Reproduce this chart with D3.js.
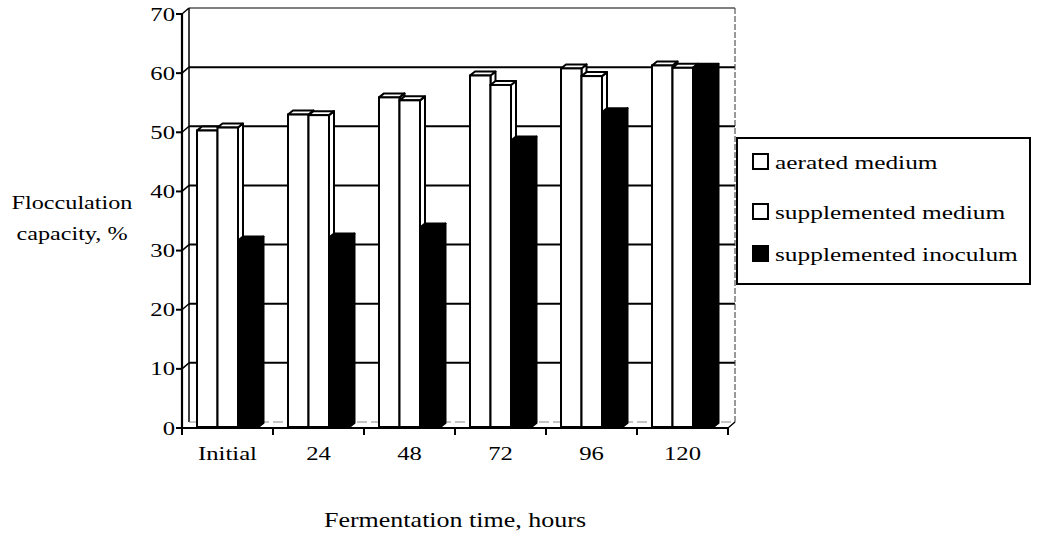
<!DOCTYPE html>
<html><head><meta charset="utf-8">
<script src="https://cdn.jsdelivr.net/npm/d3@7"></script>
<style>
body{margin:0;background:#fff}
svg{display:block}
text{font-family:"Liberation Serif","Times New Roman",serif;fill:#000}
</style></head>
<body><svg id="c" width="1038" height="537"></svg>
<script>
const categories=["Initial","24","48","72","96","120"];
const seriesNames=["aerated medium","supplemented medium","supplemented inoculum"];
const aerated=[50.3,53.0,55.9,59.6,60.8,61.3];
const suppMedium=[50.8,52.9,55.4,58.0,59.5,60.9];
const suppInoculum=[31.7,32.2,33.9,48.6,53.4,60.9];
const yTicks=[0,10,20,30,40,50,60,70];
const seriesFills=["#fff","#fff","#000"];
const xTitle="Fermentation time, hours";
const yTitle=["Flocculation","capacity, %"];

const svg=d3.select("#c");
const SX=1.3; // horizontal stretch of lettering
const X0=182,X1=728,Y0=428,Y1=14;
const DX=7,DY=-6;   // wall depth
const BDX=5,BDY=-4; // bar depth
const y=d3.scaleLinear().domain([0,70]).range([Y0,Y1]);
const x=d3.scaleBand().domain(categories).range([X0,X1]);
const xs=d3.scaleBand().domain(seriesNames).range([15,76.5]);
const data=[aerated,suppMedium,suppInoculum];

function label(txt,px,py,size,anchor){
  const g=svg.append("g").attr("transform",`translate(${px},${py}) scale(${SX},1)`);
  g.append("text").attr("font-size",size).attr("text-anchor",anchor||"start").text(txt);
}

// back wall
svg.append("rect").attr("x",X0+DX).attr("y",y(70)+DY).attr("width",X1-X0).attr("height",Y0-Y1)
  .attr("fill","#fff").attr("stroke","none");
// gridlines
yTicks.forEach(v=>{
  if(v===0) return;
  const gy=y(v)+DY;
  svg.append("line").attr("x1",X0+DX).attr("x2",X1+DX).attr("y1",gy).attr("y2",gy)
    .attr("stroke","#000").attr("stroke-width",v===70?1.2:2);
  svg.append("line").attr("x1",X0).attr("x2",X0+DX).attr("y1",y(v)).attr("y2",gy)
    .attr("stroke","#000").attr("stroke-width",1.5);
});
// wall edges
svg.append("line").attr("x1",X1+DX).attr("x2",X1+DX).attr("y1",y(70)+DY).attr("y2",Y0+DY)
  .attr("stroke","#333").attr("stroke-width",1).attr("stroke-dasharray","6,2");
svg.append("line").attr("x1",X0+DX).attr("x2",X0+DX).attr("y1",y(70)+DY).attr("y2",Y0+DY)
  .attr("stroke","#000").attr("stroke-width",1.5);
svg.append("line").attr("x1",X0+DX).attr("x2",X1+DX).attr("y1",Y0+DY).attr("y2",Y0+DY)
  .attr("stroke","#888").attr("stroke-width",1).attr("stroke-dasharray","10,4");
svg.append("line").attr("x1",X1).attr("x2",X1+DX).attr("y1",Y0).attr("y2",Y0+DY)
  .attr("stroke","#000").attr("stroke-width",1.5);

// bars
categories.forEach((c,i)=>{
  seriesNames.forEach((s,k)=>{
    const v=data[k][i];
    const bx=x(c)+xs(s), bw=xs.bandwidth(), by=y(v), bb=Y0-1;
    const f=seriesFills[k];
    // side face
    svg.append("path").attr("d",`M${bx+bw},${by}L${bx+bw+BDX},${by+BDY}L${bx+bw+BDX},${bb+BDY}L${bx+bw},${bb}Z`)
      .attr("fill",f).attr("stroke","#000").attr("stroke-width",2).attr("stroke-linejoin","round");
    // top face
    svg.append("path").attr("d",`M${bx},${by}L${bx+BDX},${by+BDY}L${bx+bw+BDX},${by+BDY}L${bx+bw},${by}Z`)
      .attr("fill",f).attr("stroke","#000").attr("stroke-width",2).attr("stroke-linejoin","round");
    // front face
    svg.append("rect").attr("x",bx).attr("y",by).attr("width",bw).attr("height",bb-by)
      .attr("fill",f).attr("stroke","#000").attr("stroke-width",2);
  });
});

// y axis
svg.append("line").attr("x1",X0).attr("x2",X0).attr("y1",Y1).attr("y2",Y0)
  .attr("stroke","#000").attr("stroke-width",2.2);
yTicks.forEach(v=>{
  svg.append("line").attr("x1",X0-6).attr("x2",X0).attr("y1",y(v)).attr("y2",y(v))
    .attr("stroke","#000").attr("stroke-width",2);
  label(String(v),X0-7,y(v)+6.5,19,"end");
});
// x axis
svg.append("line").attr("x1",X0).attr("x2",X1).attr("y1",Y0).attr("y2",Y0)
  .attr("stroke","#000").attr("stroke-width",2.2);
categories.concat([null]).forEach((c,i)=>{
  const tx=c===null?X1:x(c);
  svg.append("line").attr("x1",tx).attr("x2",tx).attr("y1",Y0).attr("y2",Y0+7)
    .attr("stroke","#000").attr("stroke-width",2);
});
categories.forEach(c=>label(c,x(c)+x.bandwidth()/2,460,19,"middle"));

// titles
label(xTitle,455,527,20,"middle");
label(yTitle[0],72,209,18.6,"middle");
label(yTitle[1],72,240,18.6,"middle");

// legend
svg.append("rect").attr("x",737).attr("y",138).attr("width",293).attr("height",146)
  .attr("fill","#fff").attr("stroke","#000").attr("stroke-width",2);
const legY=[153,203,245];
seriesNames.forEach((s,k)=>{
  svg.append("rect").attr("x",753).attr("y",legY[k]+1).attr("width",15).attr("height",15)
    .attr("fill",seriesFills[k]).attr("stroke","#000").attr("stroke-width",2);
  label(s,775,legY[k]+16,19.5,"start");
});
</script></body></html>
